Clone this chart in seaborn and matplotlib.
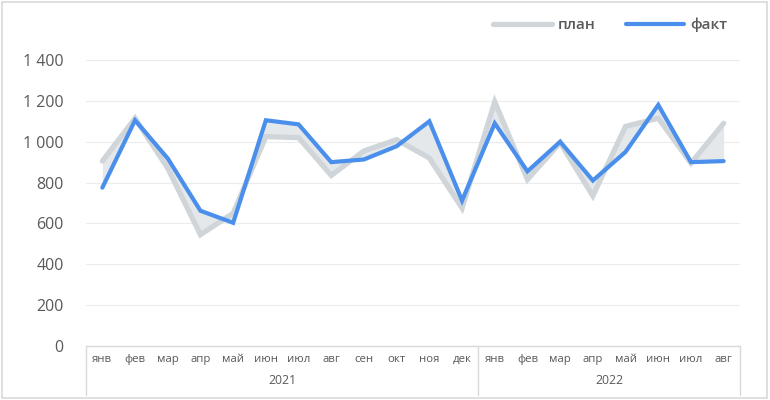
import numpy as np
import pandas as pd
import seaborn as sns
import matplotlib.pyplot as plt
from matplotlib.patches import Rectangle
from matplotlib import transforms

# data
months = ['янв', 'фев', 'мар', 'апр', 'май', 'июн', 'июл', 'авг', 'сен', 'окт', 'ноя', 'дек',
          'янв', 'фев', 'мар', 'апр', 'май', 'июн', 'июл', 'авг']
years = ['2021', '2022']
year_len = [12, 8]
plan = [905, 1115, 870, 545, 650, 1025, 1020, 835, 955, 1010, 920, 675,
        1195, 815, 995, 735, 1075, 1115, 895, 1090]
fact = [775, 1105, 918, 662, 603, 1105, 1085, 900, 913, 978, 1100, 712,
        1090, 855, 1000, 810, 950, 1180, 900, 905]

df = pd.DataFrame({'i': np.arange(len(months)), 'план': plan, 'факт': fact})
long = df.melt(id_vars='i', var_name='серия', value_name='v')

sns.set_style('white')
plt.rcParams['font.family'] = ['Open Sans', 'DejaVu Sans']
txt = '#595959'

fig = plt.figure(figsize=(7.7, 4), dpi=100)
ax = fig.add_axes([86 / 770, 1 - 346 / 400, (740 - 86) / 770, (346 - 60) / 400])

ax.fill_between(df['i'], df['план'], df['факт'], color='#e5e8eb', lw=0, zorder=1)
sns.lineplot(data=long, x='i', y='v', hue='серия', palette={'план': '#d0d5d9', 'факт': '#4a8fec'},
             ax=ax, legend=True, zorder=3)
for line, w in zip(ax.lines, [3.8, 3.0]):
    line.set_linewidth(w)
    line.set_solid_joinstyle('miter')

ax.set_ylim(0, 1400)
ax.set_xlim(-0.5, len(months) - 0.5)
ax.set_yticks(range(0, 1401, 200))
ax.set_yticklabels([f'{v:,}'.replace(',', ' ') for v in range(0, 1401, 200)], color=txt, fontsize=11.5)
ax.set_xticks(range(len(months)))
ax.set_xticklabels(months, color=txt, fontsize=8.2)
ax.tick_params(axis='x', length=0, pad=6)
ax.tick_params(axis='y', length=0, pad=16)
ax.grid(axis='y', color='#ececec', lw=0.8)
ax.set_axisbelow(True)
for s in ax.spines.values():
    s.set_visible(False)
ax.set_xlabel('')
ax.set_ylabel('')

# category box below the axis
tr = transforms.blended_transform_factory(ax.transData, ax.transAxes)
ax.plot([-0.5, len(months) - 0.5], [0, 0], color='#d9d9d9', lw=1, transform=tr, clip_on=False)
bottom = -(395 - 346) / 286
edge = -0.5
ax.plot([edge, edge], [0, bottom], color='#d9d9d9', lw=1, transform=tr, clip_on=False)
for y, n in zip(years, year_len):
    ax.text(edge + n / 2, -(381 - 346) / 286, y, transform=tr, ha='center', va='center',
            color=txt, fontsize=8.8)
    edge += n
    ax.plot([edge, edge], [0, bottom], color='#d9d9d9', lw=1, transform=tr, clip_on=False)

leg = ax.legend(title=None, loc='center right', bbox_to_anchor=(741 / 770, 1 - 25 / 400),
                bbox_transform=fig.transFigure, ncol=2, frameon=False,
                prop={'size': 11, 'weight': 'semibold'},
                handlelength=3.8, handletextpad=0.4, columnspacing=2.0)
for t in leg.get_texts():
    t.set_color(txt)
for h, w in zip(leg.get_lines(), [3.8, 3.0]):
    h.set_linewidth(w)

fig.add_artist(Rectangle((0.002, 0.004), 0.994, 0.992, transform=fig.transFigure,
                         fill=False, edgecolor='#d9d9d9', lw=1.2))

fig.savefig('out.png', dpi=100)
